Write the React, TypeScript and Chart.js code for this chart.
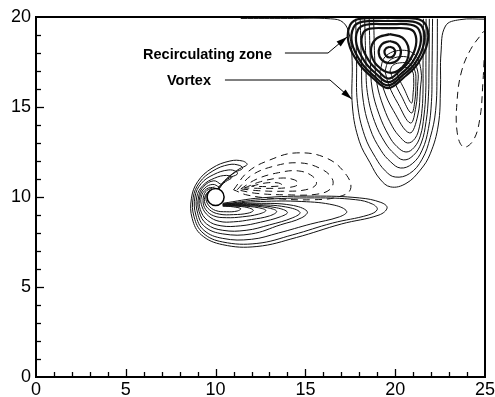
import React, { useEffect, useRef } from "react";
import { Chart, registerables } from "chart.js";

Chart.register(...registerables);

type Pt = [number, number];

// ---- axes ----
const xRange: Pt = [0, 25];
const yRange: Pt = [0, 20];
const majorStep = 5;
const xTickValues = [0, 1, 2, 3, 4, 5, 6, 7, 8, 9, 10, 11, 12, 13, 14, 15, 16, 17, 18, 19, 20, 21, 22, 23, 24, 25];
const yTickValues = [0, 1, 2, 3, 4, 5, 6, 7, 8, 9, 10, 11, 12, 13, 14, 15, 16, 17, 18, 19, 20];

// ---- cylinder ----
const cylinderCenter: Pt[] = [[10, 10]];

// ---- recirculating zone (thick closed contours) ----
const recirculationLoops: Pt[][] = [
  [[19.6,19.95],[21.14,19.91],[21.71,19.56],[21.8,18.59],[21.27,17.42],[20.48,16.64],[19.6,16.05],[18.72,16.64],[17.97,17.42],[17.4,18.59],[17.49,19.56],[18.06,19.91],[19.6,19.95]],
  [[19.6,19.78],[21.0,19.74],[21.52,19.42],[21.6,18.53],[21.12,17.45],[20.4,16.74],[19.6,16.2],[18.8,16.74],[18.12,17.45],[17.6,18.53],[17.68,19.42],[18.2,19.74],[19.6,19.78]],
  [[19.63,19.6],[20.87,19.57],[21.33,19.28],[21.4,18.47],[20.97,17.51],[20.34,16.86],[19.63,16.38],[18.92,16.86],[18.31,17.51],[17.85,18.47],[17.92,19.28],[18.38,19.57],[19.63,19.6]],
  [[19.65,19.38],[20.7,19.35],[21.09,19.1],[21.15,18.4],[20.79,17.56],[20.25,17.0],[19.65,16.58],[19.05,17.0],[18.54,17.56],[18.15,18.4],[18.21,19.1],[18.6,19.35],[19.65,19.38]],
  [[19.7,19.05],[20.4,18.85],[20.75,18.2],[20.55,17.4],[19.8,16.9],[19.0,17.3],[18.65,18.1],[18.95,18.8],[19.7,19.05]],
  [[19.7,18.67],[20.14,18.49],[20.32,18.05],[20.14,17.61],[19.7,17.43],[19.26,17.61],[19.08,18.05],[19.26,18.49],[19.7,18.67]],
  [[19.7,18.35],[19.91,18.26],[20.0,18.05],[19.91,17.84],[19.7,17.75],[19.49,17.84],[19.4,18.05],[19.49,18.26],[19.7,18.35]],
];

// ---- vortex (thin contours) ----
const vortexLines: Pt[][] = [
  [[11.4,19.92],[14.0,19.92],[16.4,19.9],[17.1,19.7],[17.45,19.0],[17.6,17.6],[17.62,15.0],[18.0,13.1],[18.6,11.9],[19.15,11.0],[19.75,10.56],[20.6,10.75],[21.4,11.5],[21.95,12.4],[22.4,14.0],[22.52,16.0],[22.55,18.0],[22.8,19.5],[23.6,19.85],[25,19.88]],
  [[17.8,19.9],[17.85,17.5],[17.9,15.2],[18.3,13.4],[18.9,12.2],[19.45,11.45],[20.0,11.11],[20.8,11.3],[21.5,12.1],[21.95,13.3],[22.25,14.8],[22.33,17.0],[22.35,19.9]],
  [[18.05,19.9],[18.12,17.5],[18.2,15.5],[18.6,13.8],[19.2,12.6],[19.75,11.95],[20.3,11.61],[20.95,11.85],[21.5,12.6],[21.85,13.8],[22.02,15.3],[22.05,17.0],[22.08,19.9]],
  [[18.3,19.9],[18.37,17.5],[18.45,15.8],[18.85,14.2],[19.45,13.0],[19.95,12.4],[20.45,12.06],[21.0,12.3],[21.45,13.0],[21.72,14.2],[21.85,15.6],[21.88,17.0],[21.9,19.9]],
  [[18.55,19.9],[18.62,17.5],[18.72,16.0],[19.1,14.6],[19.65,13.4],[20.1,12.8],[20.6,12.5],[21.05,12.75],[21.4,13.4],[21.6,14.5],[21.7,15.8],[21.71,17.2],[21.72,19.9]],
  [[18.8,19.9],[18.87,17.5],[18.98,16.3],[19.35,15.0],[19.85,13.9],[20.3,13.3],[20.7,13.0],[21.1,13.25],[21.35,13.9],[21.5,14.9],[21.55,16.0],[21.55,17.2],[21.57,19.9]],
  [[19.15,17.0],[19.35,16.0],[19.9,14.8],[20.8,13.56],[21.25,14.5],[21.4,16.0],[21.44,17.0],[21.1,17.9],[20.3,18.15],[19.45,17.8],[19.15,17.0]],
  [[19.43,17.0],[19.65,16.2],[20.15,15.2],[20.85,14.11],[21.15,15.0],[21.25,16.2],[21.25,17.0],[20.9,17.65],[20.3,17.8],[19.65,17.55],[19.43,17.0]],
  [[19.71,17.0],[19.9,16.5],[20.35,15.6],[20.9,14.67],[21.1,15.4],[21.15,16.4],[21.1,17.0],[20.8,17.4],[20.25,17.45],[19.85,17.3],[19.71,17.0]],
  [[20.1,16.9],[20.2,16.6],[20.5,16.0],[20.9,15.22],[21.0,15.8],[21.03,16.5],[20.95,17.0],[20.6,17.2],[20.25,17.15],[20.1,16.9]],
];

// ---- right wall negative contour (dashed) ----
const wallDashedLine: Pt[] = [[24.95,17.6],[24.88,16.3],[24.72,14.4],[24.35,13.15],[23.8,12.78],[23.45,13.6],[23.45,15.4],[23.7,17.0],[24.2,18.2],[24.92,19.2]];

// ---- cylinder wake (solid contours) ----
const wakeLines: Pt[][] = [
  [[10.4,9.65],[12.5,9.95],[15.5,10.05],[18.0,9.95],[19.2,9.7],[19.55,9.4],[19.1,9.0],[17.0,8.5],[14.5,7.75],[12.3,7.25],[10.4,7.35],[9.2,7.9],[8.7,8.8],[8.65,9.9],[9.0,10.85],[9.8,11.6],[10.8,12.0],[11.5,12.0],[11.75,11.8],[11.3,11.55],[10.6,11.0],[10.2,10.45]],
  [[10.4,9.6],[12.5,9.85],[15.5,9.95],[17.8,9.85],[18.75,9.6],[19.0,9.3],[18.5,9.0],[16.5,8.55],[14.3,7.9],[12.3,7.42],[10.4,7.5],[9.3,8.0],[8.8,8.9],[8.75,9.95],[9.1,10.8],[9.85,11.45],[10.75,11.8],[11.35,11.75],[11.5,11.58],[11.1,11.38],[10.5,10.9],[10.15,10.45]],
  [[10.4,9.6],[12.5,9.75],[14.8,9.75],[16.6,9.55],[17.3,9.2],[16.9,8.9],[15.3,8.5],[13.5,8.0],[12.0,7.65],[10.4,7.7],[9.35,8.15],[8.9,9.0],[8.85,10.0],[9.2,10.75],[9.9,11.25],[10.7,11.5],[11.15,11.42],[11.2,11.26],[10.8,11.08],[10.3,10.7],[10.1,10.45]],
  [[10.4,9.6],[12.3,9.65],[14.2,9.55],[15.1,9.2],[14.8,8.85],[13.6,8.45],[12.0,7.95],[10.4,7.95],[9.4,8.35],[9.0,9.1],[8.95,10.0],[9.3,10.65],[9.95,11.05],[10.6,11.2],[10.9,11.08],[10.55,10.85],[10.1,10.45]],
  [[10.4,9.58],[12.2,9.58],[13.9,9.45],[14.7,9.15],[14.3,8.85],[13.0,8.45],[11.7,8.15],[10.4,8.15],[9.5,8.5],[9.08,9.2],[9.05,10.0],[9.35,10.6],[9.9,10.9],[10.3,10.7]],
  [[10.4,9.55],[12.0,9.55],[13.4,9.4],[14.0,9.15],[13.6,8.9],[12.5,8.6],[11.4,8.4],[10.3,8.4],[9.55,8.7],[9.15,9.3],[9.12,10.0],[9.4,10.5],[9.85,10.7],[10.2,10.55]],
  [[10.4,9.55],[11.8,9.52],[12.9,9.4],[13.4,9.2],[13.0,8.95],[12.0,8.75],[11.0,8.62],[10.2,8.65],[9.6,8.95],[9.25,9.45],[9.2,10.0],[9.5,10.45],[9.95,10.55]],
  [[10.4,9.52],[11.5,9.5],[12.4,9.4],[12.8,9.25],[12.4,9.05],[11.5,8.9],[10.6,8.85],[9.9,8.95],[9.45,9.3],[9.3,9.8],[9.45,10.3],[9.8,10.5]],
  [[10.4,9.5],[11.3,9.48],[11.9,9.38],[12.1,9.25],[11.8,9.1],[11.0,9.02],[10.2,9.05],[9.65,9.3],[9.38,9.75],[9.5,10.2],[9.8,10.4]],
  [[10.4,9.5],[11.0,9.45],[11.4,9.35],[11.2,9.22],[10.6,9.18],[10.0,9.25],[9.6,9.55],[9.46,10.0],[9.65,10.35]],
];

// ---- cylinder wake (dashed, negative contours) ----
const wakeDashedLoops: Pt[][] = [
  [[11.0,10.4],[11.8,11.4],[13.0,12.05],[14.5,12.45],[16.2,12.15],[17.3,11.2],[17.5,10.4],[16.8,10.0],[15.5,9.85],[13.5,9.9],[11.8,10.1],[11.0,10.4]],
  [[11.2,10.4],[12.0,11.2],[13.2,11.7],[14.6,11.9],[15.8,11.6],[16.5,11.0],[16.4,10.45],[15.6,10.15],[14.0,10.12],[12.3,10.2],[11.2,10.4]],
  [[11.4,10.45],[12.3,11.0],[13.5,11.35],[14.6,11.45],[15.4,11.15],[15.6,10.7],[15.0,10.4],[13.8,10.32],[12.4,10.35],[11.4,10.45]],
  [[11.6,10.5],[12.5,10.85],[13.6,11.05],[14.4,10.95],[14.6,10.7],[14.0,10.52],[12.8,10.48],[11.6,10.5]],
  [[12.0,10.6],[12.8,10.78],[13.5,10.78],[13.7,10.65],[13.0,10.58],[12.0,10.6]],
];

// ---- annotations ----
const annotationLabels = ["Recirculating zone", "Vortex"];
const labelAnchors: Pt[] = [[5.96, 17.89], [7.29, 16.42]];
const leaderLines: Pt[][] = [
  [[13.86, 18.0], [16.26, 18.0], [17.32, 18.89]],
  [[10.52, 16.5], [16.37, 16.5], [17.58, 15.44]],
];

const FONT = "'Liberation Sans', Arial, Helvetica, sans-serif";
const INK = "#111";

const toXY = (pts: Pt[]) => pts.map(([x, y]) => ({ x, y }));

const framePlugin = {
  id: "frameTicks",
  afterDraw(chart: any) {
    const { ctx, chartArea: a, scales } = chart;
    const xs = scales.x;
    const ys = scales.y;
    ctx.save();
    ctx.strokeStyle = "#000";
    ctx.lineWidth = 1.3;
    xTickValues.forEach((v) => {
      if (v === xRange[0] || v === xRange[1]) return;
      const px = Math.round(xs.getPixelForValue(v)) + 0.5;
      const len = v % majorStep === 0 ? 8 : 5;
      ctx.beginPath();
      ctx.moveTo(px, a.bottom);
      ctx.lineTo(px, a.bottom - len);
      ctx.stroke();
    });
    yTickValues.forEach((v) => {
      if (v === yRange[0] || v === yRange[1]) return;
      const py = Math.round(ys.getPixelForValue(v)) + 0.5;
      const len = v % majorStep === 0 ? 8 : 5;
      ctx.beginPath();
      ctx.moveTo(a.left, py);
      ctx.lineTo(a.left + len, py);
      ctx.stroke();
    });
    ctx.lineWidth = 2;
    ctx.strokeRect(a.left, a.top, a.right - a.left, a.bottom - a.top);
    ctx.restore();
  },
};

const annotationPlugin = {
  id: "annotations",
  afterDatasetsDraw(chart: any) {
    const { ctx, scales } = chart;
    const xs = scales.x;
    const ys = scales.y;
    ctx.save();
    ctx.fillStyle = "#000";
    ctx.strokeStyle = "#000";
    ctx.font = `bold 14.5px ${FONT}`;
    ctx.textAlign = "left";
    ctx.textBaseline = "middle";
    annotationLabels.forEach((t, i) => {
      const [x, y] = labelAnchors[i];
      ctx.fillText(t, xs.getPixelForValue(x), ys.getPixelForValue(y));
    });
    ctx.lineWidth = 1;
    leaderLines.forEach((line) => {
      const p = line.map(([x, y]) => [xs.getPixelForValue(x), ys.getPixelForValue(y)]);
      ctx.beginPath();
      ctx.moveTo(p[0][0], p[0][1]);
      for (let i = 1; i < p.length; i++) ctx.lineTo(p[i][0], p[i][1]);
      ctx.stroke();
      const [tx, ty] = p[p.length - 1];
      const [sx, sy] = p[p.length - 2];
      const ang = Math.atan2(ty - sy, tx - sx);
      const L = 11;
      const W = 3.2;
      ctx.beginPath();
      ctx.moveTo(tx, ty);
      ctx.lineTo(tx - L * Math.cos(ang) + W * Math.sin(ang), ty - L * Math.sin(ang) - W * Math.cos(ang));
      ctx.lineTo(tx - L * Math.cos(ang) - W * Math.sin(ang), ty - L * Math.sin(ang) + W * Math.cos(ang));
      ctx.closePath();
      ctx.fill();
    });
    ctx.restore();
  },
};

export default function App() {
  const canvasRef = useRef<HTMLCanvasElement | null>(null);

  useEffect(() => {
    const canvas = canvasRef.current;
    if (!canvas) return;

    const lineDs = (pts: Pt[], width: number, dash: number[] = []) => ({
      type: "scatter" as const,
      data: toXY(pts),
      showLine: true,
      borderColor: INK,
      borderWidth: width,
      borderDash: dash,
      pointRadius: 0,
      pointHoverRadius: 0,
      tension: 0.4,
      fill: false,
    });

    const datasets: any[] = [
      {
        type: "scatter",
        data: toXY(cylinderCenter),
        pointRadius: 8.5,
        pointHoverRadius: 8.5,
        pointBackgroundColor: "#fff",
        pointBorderColor: "#000",
        pointBorderWidth: 1.5,
        showLine: false,
      },
      ...recirculationLoops.map((l) => lineDs(l, 2.2)),
      ...vortexLines.map((l) => lineDs(l, 1)),
      lineDs(wallDashedLine, 1, [7, 5]),
      ...wakeLines.map((l) => lineDs(l, 1)),
      ...wakeDashedLoops.map((l) => lineDs(l, 1, [7, 5])),
    ];

    const chart = new Chart(canvas, {
      type: "scatter",
      data: { datasets },
      plugins: [framePlugin, annotationPlugin],
      options: {
        responsive: false,
        animation: false,
        events: [],
        layout: { padding: { left: 0, right: 10, top: 17, bottom: 0 } },
        plugins: { legend: { display: false }, tooltip: { enabled: false } },
        scales: {
          x: {
            type: "linear",
            position: "bottom",
            min: xRange[0],
            max: xRange[1],
            grid: { display: false, drawTicks: false },
            border: { display: false },
            ticks: {
              stepSize: majorStep,
              maxRotation: 0,
              autoSkip: false,
              padding: 2,
              color: "#000",
              font: { family: FONT, size: 18 },
            },
            afterFit: (s: any) => {
              s.height = 20;
              s.paddingLeft = 0;
              s.paddingRight = 0;
            },
          },
          y: {
            type: "linear",
            position: "left",
            min: yRange[0],
            max: yRange[1],
            grid: { display: false, drawTicks: false },
            border: { display: false },
            ticks: {
              stepSize: majorStep,
              autoSkip: false,
              padding: 5,
              color: "#000",
              font: { family: FONT, size: 18 },
            },
            afterFit: (s: any) => {
              s.width = 36;
              s.paddingTop = 0;
              s.paddingBottom = 0;
            },
          },
        },
      } as any,
    });

    return () => chart.destroy();
  }, []);

  return (
    <div style={{ position: "absolute", left: 0, top: 0, width: 495, height: 397, background: "#fff" }}>
      <canvas ref={canvasRef} width={495} height={397} style={{ display: "block" }} />
    </div>
  );
}
